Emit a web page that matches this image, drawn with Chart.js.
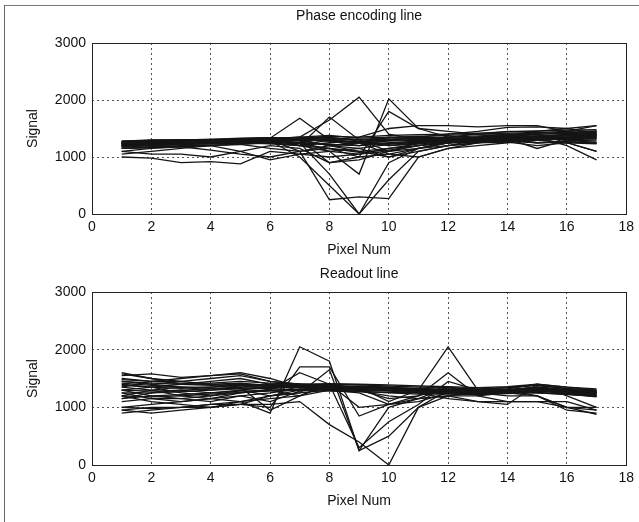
<!DOCTYPE html>
<html>
<head>
<meta charset="utf-8">
<script src="https://cdn.jsdelivr.net/npm/chart.js@4.4.1/dist/chart.umd.min.js"></script>
<style>
  body { margin: 0; background: #fff; }
  #page { position: relative; width: 639px; height: 522px; overflow: hidden; }
  #frame { position: absolute; left: 4px; top: 5px; width: 640px; height: 520px;
           border-left: 1px solid #666; border-top: 1px solid #777; }
  canvas { position: absolute; left: 0; }
</style>
</head>
<body>
<div id="page">
  <div id="frame"></div>
  <canvas id="phase" width="639" height="262" style="top:0"></canvas>
  <canvas id="readout" width="639" height="266" style="top:256px"></canvas>
</div>
<script>
const pixelNum = [1, 2, 3, 4, 5, 6, 7, 8, 9, 10, 11, 12, 13, 14, 15, 16, 17];
const xTicks = [0, 2, 4, 6, 8, 10, 12, 14, 16, 18];
const yTicks = [0, 1000, 2000, 3000];

// phase encoding line profiles, one row per line
const phaseLines = [
  [1250, 1260, 1270, 1280, 1290, 1300, 1310, 1320, 1300, 1310, 1320, 1330, 1340, 1350, 1360, 1380, 1400],
  [1230, 1250, 1260, 1270, 1280, 1290, 1300, 1280, 1250, 1280, 1300, 1320, 1330, 1350, 1370, 1390, 1420],
  [1200, 1220, 1230, 1250, 1260, 1280, 1250, 1220, 1200, 1250, 1280, 1300, 1320, 1340, 1350, 1370, 1380],
  [1180, 1200, 1220, 1240, 1250, 1230, 1200, 1250, 1280, 1300, 1290, 1300, 1310, 1330, 1320, 1350, 1360],
  [1280, 1300, 1300, 1290, 1300, 1320, 1350, 1300, 1260, 1240, 1260, 1290, 1320, 1380, 1400, 1420, 1450],
  [1150, 1180, 1200, 1210, 1220, 1150, 1100, 1200, 1250, 1200, 1230, 1280, 1300, 1290, 1300, 1320, 1340],
  [1100, 1150, 1180, 1120, 1050, 1000, 1100, 1150, 1100, 1150, 1200, 1250, 1280, 1300, 1250, 1280, 1300],
  [1000, 980, 900, 920, 880, 1100, 1050, 1000, 1050, 1100, 1150, 1200, 1250, 1260, 1200, 1250, 1230],
  [1100, 1050, 1050, 1000, 1100, 1200, 1150, 900, 1000, 1050, 1150, 1250, 1300, 1350, 1300, 1250, 1100],
  [1050, 1100, 1150, 1200, 1100, 950, 1050, 1100, 1150, 1000, 1100, 1200, 1300, 1350, 1400, 1300, 1250],
  [1270, 1280, 1290, 1300, 1310, 1330, 1680, 1300, 1250, 1350, 1300, 1350, 1400, 1450, 1450, 1500, 1550],
  [1220, 1240, 1260, 1250, 1240, 1250, 1200, 1700, 1300, 1100, 1200, 1280, 1300, 1320, 1340, 1350, 1380],
  [1200, 1210, 1230, 1250, 1270, 1300, 1350, 1650, 2050, 1400, 1300, 1300, 1320, 1340, 1360, 1380, 1400],
  [1150, 1160, 1180, 1200, 1230, 1250, 1200, 1100, 700, 2020, 1500, 1350, 1350, 1360, 1370, 1380, 1390],
  [1240, 1250, 1260, 1270, 1280, 1290, 1200, 1150, 1000, 1800, 1500, 1450, 1400, 1400, 1420, 1430, 1440],
  [1200, 1220, 1240, 1260, 1280, 1300, 1100, 250, 300, 270, 1000, 1150, 1200, 1250, 1300, 1350, 1350],
  [1180, 1200, 1220, 1230, 1250, 1280, 1000, 500, 0, 600, 1100, 1200, 1250, 1300, 1300, 1330, 1350],
  [1220, 1230, 1250, 1260, 1270, 1300, 1250, 700, 0, 900, 1150, 1250, 1280, 1290, 1300, 1320, 1330],
  [1250, 1260, 1270, 1290, 1300, 1320, 1200, 1300, 1350, 1500, 1550, 1550, 1530, 1550, 1550, 1450, 1550],
  [1200, 1210, 1220, 1230, 1250, 1270, 1300, 1280, 1200, 1300, 1350, 1400, 1450, 1520, 1530, 1500, 1420],
  [1260, 1270, 1280, 1300, 1300, 1300, 1320, 1350, 1280, 1200, 1250, 1300, 1350, 1400, 1350, 1200, 950],
  [1150, 1170, 1190, 1200, 1220, 1250, 1300, 900, 950, 1100, 1250, 1300, 1350, 1380, 1400, 1250, 1100],
  [1230, 1250, 1270, 1280, 1290, 1310, 1300, 1200, 1100, 1000, 1150, 1250, 1300, 1320, 1150, 1300, 1320],
  [1280, 1290, 1300, 1310, 1320, 1340, 1300, 1200, 1250, 1050, 1000, 1150, 1250, 1350, 1350, 1400, 1450],
  [1260, 1280, 1290, 1300, 1310, 1320, 1350, 1380, 1330, 1350, 1360, 1380, 1400, 1420, 1430, 1450, 1460],
  [1240, 1260, 1270, 1280, 1300, 1310, 1290, 1200, 1150, 1220, 1260, 1290, 1300, 1310, 1320, 1300, 1280],
  [1220, 1240, 1260, 1270, 1290, 1300, 1280, 1100, 1050, 1150, 1230, 1270, 1280, 1300, 1250, 1260, 1240],
  [1270, 1290, 1300, 1310, 1330, 1340, 1340, 1360, 1350, 1380, 1390, 1400, 1420, 1440, 1460, 1470, 1480],
  [1190, 1210, 1230, 1250, 1260, 1270, 1230, 1150, 1080, 1120, 1200, 1250, 1260, 1280, 1250, 1270, 1250],
  [1210, 1230, 1240, 1260, 1270, 1290, 1310, 1290, 1270, 1290, 1290, 1310, 1330, 1350, 1350, 1370, 1390],
  [1250, 1270, 1280, 1290, 1300, 1320, 1340, 1330, 1310, 1330, 1340, 1350, 1370, 1390, 1400, 1410, 1430],
  [1230, 1240, 1250, 1270, 1280, 1270, 1250, 1220, 1200, 1240, 1270, 1290, 1310, 1330, 1330, 1340, 1350]
];

// readout line profiles
const readoutLines = [
  [1580, 1500, 1450, 1400, 1420, 1380, 1350, 1350, 1330, 1320, 1300, 1300, 1280, 1300, 1350, 1300, 1280],
  [1550, 1580, 1520, 1550, 1580, 1450, 1400, 1380, 1350, 1330, 1320, 1300, 1300, 1320, 1400, 1350, 1300],
  [1500, 1450, 1500, 1550, 1600, 1500, 1350, 1360, 1340, 1320, 1300, 1320, 1300, 1350, 1380, 1320, 1250],
  [1450, 1400, 1350, 1300, 1350, 1400, 1380, 1370, 1350, 1300, 1280, 1300, 1250, 1300, 1350, 1300, 1260],
  [1400, 1350, 1250, 1200, 1300, 1350, 1400, 1380, 1360, 1340, 1320, 1300, 1280, 1280, 1300, 1280, 1240],
  [1350, 1300, 1200, 1150, 1250, 1300, 1300, 1350, 1370, 1350, 1300, 1280, 1260, 1300, 1320, 1260, 1220],
  [1300, 1200, 1150, 1100, 1200, 1250, 1320, 1330, 1300, 1280, 1250, 1260, 1240, 1280, 1300, 1250, 1200],
  [1250, 1150, 1100, 1150, 1200, 1100, 1280, 1320, 1300, 1290, 1270, 1250, 1230, 1260, 1280, 1240, 1200],
  [1200, 1100, 1050, 1000, 1100, 1200, 1250, 1300, 1280, 1250, 1230, 1230, 1220, 1250, 1250, 1230, 1180],
  [1000, 1050, 1100, 1150, 1100, 900, 2050, 1800, 250, 1000, 1150, 1200, 1200, 1250, 1300, 1250, 1200],
  [950, 1000, 1000, 1050, 1050, 1000, 1700, 1700, 850, 1050, 1100, 1250, 1300, 1280, 1250, 1220, 1200],
  [900, 950, 1000, 1000, 1050, 1050, 1100, 700, 400, 0, 1000, 1200, 1250, 1250, 1300, 1280, 1250],
  [950, 900, 950, 1000, 1050, 1200, 1250, 1650, 250, 500, 1000, 1300, 1300, 1300, 1350, 1300, 1280],
  [1000, 980, 1000, 1050, 1100, 1150, 1200, 1400, 300, 750, 1050, 1450, 1300, 1280, 1300, 1270, 1240],
  [1100, 1150, 1150, 1200, 1250, 1300, 1600, 1400, 1000, 1050, 1200, 1350, 1280, 1250, 1200, 1000, 880],
  [1150, 1250, 1300, 1250, 1300, 1200, 1300, 1350, 1350, 1100, 1300, 2050, 1300, 1300, 1200, 950, 900],
  [1300, 1350, 1400, 1450, 1500, 1400, 1300, 1350, 1300, 1150, 1200, 1600, 1200, 1100, 1100, 1000, 1000],
  [1600, 1500, 1400, 1400, 1350, 950, 1200, 1400, 1300, 1350, 1250, 1150, 1100, 1050, 1400, 1200, 1000],
  [1350, 1450, 1450, 1500, 1550, 1450, 1400, 1300, 1280, 1200, 1150, 1200, 1100, 1100, 1100, 1100, 950],
  [1200, 1300, 1350, 1350, 1400, 1300, 1200, 1300, 1250, 1050, 1150, 1350, 1250, 1200, 1200, 1000, 950],
  [1450, 1420, 1400, 1380, 1400, 1380, 1380, 1400, 1390, 1370, 1350, 1340, 1320, 1340, 1380, 1330, 1300],
  [1300, 1280, 1300, 1320, 1330, 1340, 1350, 1360, 1350, 1340, 1320, 1300, 1280, 1300, 1330, 1290, 1260],
  [1380, 1350, 1330, 1350, 1380, 1360, 1340, 1340, 1330, 1320, 1300, 1290, 1270, 1290, 1310, 1280, 1250],
  [1250, 1250, 1270, 1300, 1320, 1330, 1300, 1280, 1270, 1260, 1250, 1240, 1220, 1240, 1260, 1230, 1190],
  [1420, 1380, 1350, 1330, 1350, 1350, 1370, 1360, 1350, 1340, 1330, 1310, 1290, 1310, 1340, 1310, 1290],
  [1150, 1200, 1220, 1250, 1280, 1300, 1310, 1340, 1340, 1330, 1310, 1290, 1270, 1290, 1320, 1290, 1270],
  [1480, 1450, 1420, 1420, 1450, 1420, 1400, 1410, 1400, 1390, 1370, 1360, 1340, 1360, 1400, 1350, 1320],
  [1200, 1180, 1200, 1230, 1260, 1280, 1300, 1310, 1310, 1300, 1280, 1270, 1250, 1270, 1290, 1260, 1220]
];

const FONT = "'Liberation Sans', Arial, sans-serif";

// solid box around the axes, matlab style
const axesBox = {
  id: "axesBox",
  afterDraw(chart) {
    const { ctx, chartArea: a } = chart;
    ctx.save();
    ctx.strokeStyle = "#222";
    ctx.lineWidth = 1;
    ctx.strokeRect(Math.round(a.left) + 0.5, Math.round(a.top) + 0.5,
      Math.round(a.right - a.left), Math.round(a.bottom - a.top));
    ctx.restore();
  },
};

function makeChart(id, title, lines, lay) {
  const ctx = document.getElementById(id).getContext("2d");
  return new Chart(ctx, {
    type: "line",
    data: {
      datasets: lines.map((vals) => ({
        data: vals.map((v, i) => ({ x: pixelNum[i], y: v })),
        borderColor: "#151515",
        borderWidth: 1.3,
        pointRadius: 0,
        tension: 0,
        fill: false,
      })),
    },
    options: {
      animation: false,
      responsive: false,
      events: [],
      layout: { padding: { left: 0, right: 11, top: 0, bottom: lay.padBottom } },
      plugins: {
        legend: { display: false },
        tooltip: { enabled: false },
        title: {
          display: true,
          fullSize: false,
          text: title,
          color: "#111",
          font: { family: FONT, size: 14, weight: "normal" },
          padding: { top: lay.titleTop, bottom: lay.titleBottom },
        },
      },
      scales: {
        x: {
          type: "linear",
          min: 0,
          max: 18,
          afterBuildTicks: (s) => { s.ticks = xTicks.map((v) => ({ value: v })); },
          afterFit: (s) => { s.height = 46; },
          grid: { color: "#555", drawTicks: false },
          border: { display: false, dash: [2, 3] },
          ticks: { color: "#111", padding: 5, font: { family: FONT, size: 14 }, callback: (v) => String(v) },
          title: {
            display: true,
            text: "Pixel Num",
            color: "#111",
            font: { family: FONT, size: 14 },
            padding: { top: 0, bottom: 1.6 },
          },
        },
        y: {
          type: "linear",
          min: 0,
          max: 3000,
          afterBuildTicks: (s) => { s.ticks = yTicks.map((v) => ({ value: v })); },
          afterFit: (s) => { s.width = 92; },
          grid: { color: "#555", drawTicks: false },
          border: { display: false, dash: [2, 3] },
          ticks: { color: "#111", padding: 6, font: { family: FONT, size: 14 }, callback: (v) => String(v) },
          title: {
            display: true,
            text: "Signal",
            color: "#111",
            font: { family: FONT, size: 14 },
            padding: { top: 24.6, bottom: 0 },
          },
        },
      },
    },
    plugins: [axesBox],
  });
}

makeChart("phase", "Phase encoding line", phaseLines,
  { titleTop: 7.6, titleBottom: 18.6, padBottom: 2 });
makeChart("readout", "Readout line", readoutLines,
  { titleTop: 9.6, titleBottom: 9.6, padBottom: 11 });
</script>
</body>
</html>
